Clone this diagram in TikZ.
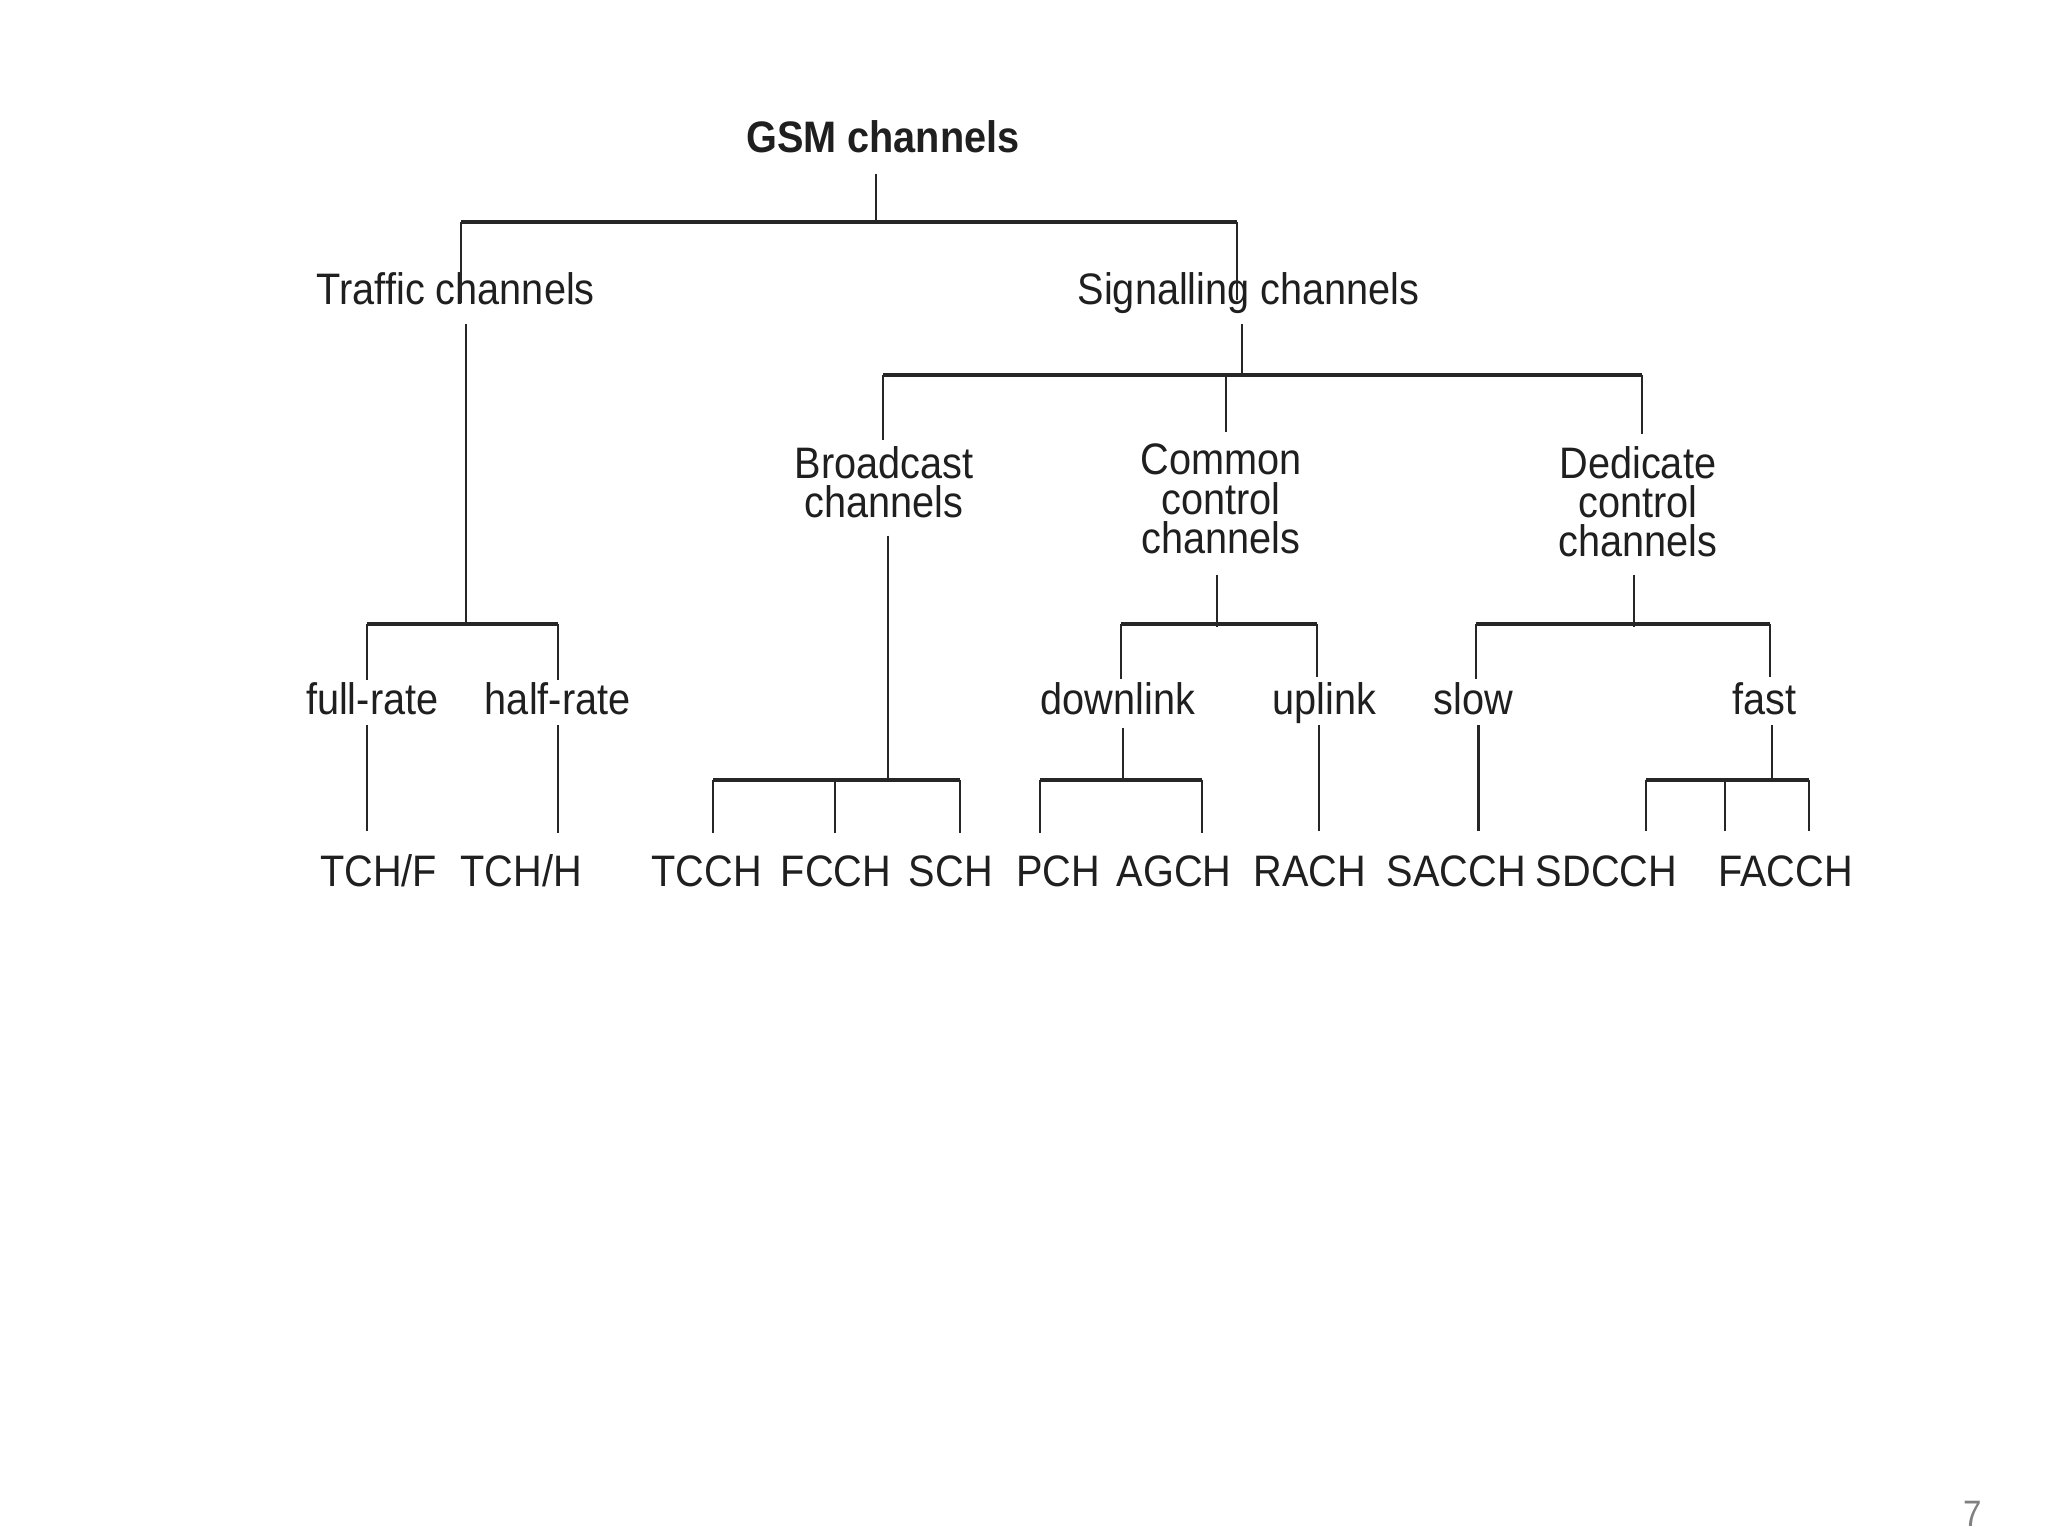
\documentclass[tikz,border=0pt]{standalone}
\usepackage{fontspec}
\setmainfont[FakeStretch=0.9]{Liberation Sans}
\begin{document}
\begin{tikzpicture}[x=0.01cm,y=-0.01cm,
  lbl/.style={inner sep=0pt, align=center, text=black!88, font=\fontsize{9.6}{8.54}\selectfont},
  ttl/.style={lbl, font=\bfseries\fontsize{9.6}{8.54}\selectfont},
  vl/.style={line width=0.45pt, draw=black!85},
  hl/.style={line width=0.8pt, draw=black!85}]
\useasboundingbox (0,0) rectangle (1568,1176);
% ---------- nodes ----------
\node[ttl,anchor=base] (gsm) at (676,117) {GSM channels};
\node[lbl,anchor=base] (traffic) at (349,233) {Traffic channels};
\node[lbl,anchor=base] (signal) at (956,233) {Signalling channels};
\node[lbl] (bcast) at (677,369) {Broadcast\\channels};
\node[lbl] (common) at (935,382) {Common\\control\\channels};
\node[lbl] (dedic) at (1254,384) {Dedicate\\control\\channels};
\node[lbl,anchor=base] (full) at (285,547) {full-rate};
\node[lbl,anchor=base] (half) at (427,547) {half-rate};
\node[lbl,anchor=base] (down) at (856,547) {downlink};
\node[lbl,anchor=base] (up) at (1014,547) {uplink};
\node[lbl,anchor=base] (slow) at (1128,547) {slow};
\node[lbl,anchor=base] (fast) at (1351,547) {fast};
\node[lbl,anchor=base] (tchf) at (290,679) {TCH/F};
\node[lbl,anchor=base] (tchh) at (399,679) {TCH/H};
\node[lbl,anchor=base] (tcch) at (541,679) {TCCH};
\node[lbl,anchor=base] (fcch) at (640,679) {FCCH};
\node[lbl,anchor=base] (sch) at (728,679) {SCH};
\node[lbl,anchor=base] (pch) at (810,679) {PCH};
\node[lbl,anchor=base] (agch) at (899,679) {AGCH};
\node[lbl,anchor=base] (rach) at (1003,679) {RACH};
\node[lbl,anchor=base] (sacch) at (1115,679) {SACCH};
\node[lbl,anchor=base] (sdcch) at (1230,679) {SDCCH};
\node[lbl,anchor=base] (facch) at (1367,679) {FACCH};
\node[inner sep=0pt,anchor=base,text=black!50,font=\fontsize{8}{9}\selectfont] (page) at (1510,1169) {7};
% ---------- junction coordinates ----------
% GSM
\coordinate (g0) at (671,133); \coordinate (g1) at (671,170);
\coordinate (gL) at (353,170); \coordinate (gR) at (947,170);
\coordinate (gLe) at (353,232); \coordinate (gRe) at (947,230);
% Traffic
\coordinate (t0) at (357,248); \coordinate (t1) at (357,478);
\coordinate (tL) at (281,478); \coordinate (tR) at (427,478);
\coordinate (tLe) at (281,521); \coordinate (tRe) at (427,521);
\coordinate (f0) at (281,555); \coordinate (f1) at (281,636);
\coordinate (h0) at (427,555); \coordinate (h1) at (427,638);
% Signalling
\coordinate (s0) at (951,248); \coordinate (s1) at (951,289);
\coordinate (sL) at (676,287); \coordinate (sR) at (1257,287);
\coordinate (sLe) at (676,337); \coordinate (sM) at (939,287); \coordinate (sMe) at (939,331);
\coordinate (sRe) at (1257,332);
% Broadcast
\coordinate (b0) at (680,410); \coordinate (b1) at (680,597);
\coordinate (bL) at (546,597); \coordinate (bM) at (639,597); \coordinate (bR) at (735,597);
\coordinate (bLe) at (546,638); \coordinate (bMe) at (639,638); \coordinate (bRe) at (735,638);
% Common
\coordinate (c0) at (932,440); \coordinate (c1) at (932,480);
\coordinate (cL) at (858,478); \coordinate (cR) at (1008,478);
\coordinate (cLe) at (858,520); \coordinate (cRe) at (1008,518);
% downlink
\coordinate (d0) at (860,557); \coordinate (d1) at (860,597);
\coordinate (dL) at (796,597); \coordinate (dR) at (920,597);
\coordinate (dLe) at (796,638); \coordinate (dRe) at (920,638);
% uplink
\coordinate (u0) at (1010,555); \coordinate (u1) at (1010,636);
% Dedicated
\coordinate (e0) at (1251,440); \coordinate (e1) at (1251,480);
\coordinate (eL) at (1130,478); \coordinate (eR) at (1355,478);
\coordinate (eLe) at (1130,520); \coordinate (eRe) at (1355,518);
% slow
\coordinate (w0) at (1132,555); \coordinate (w1) at (1132,636);
% fast
\coordinate (k0) at (1357,555); \coordinate (k1) at (1357,597);
\coordinate (kL) at (1260,597); \coordinate (kM) at (1321,597); \coordinate (kR) at (1385,597);
\coordinate (kLe) at (1260,636); \coordinate (kMe) at (1321,636); \coordinate (kRe) at (1385,636);
% ---------- connectors ----------
\draw[vl] (g0) -- (g1);
\draw[hl] (gL) -- (gR);
\draw[vl] (gL) -- (gLe);
\draw[vl] (gR) -- (gRe);
\draw[vl] (t0) -- (t1);
\draw[hl] (tL) -- (tR);
\draw[vl] (tL) -- (tLe);
\draw[vl] (tR) -- (tRe);
\draw[vl] (f0) -- (f1);
\draw[vl] (h0) -- (h1);
\draw[vl] (s0) -- (s1);
\draw[hl] (sL) -- (sR);
\draw[vl] (sL) -- (sLe);
\draw[vl] (sM) -- (sMe);
\draw[vl] (sR) -- (sRe);
\draw[vl] (b0) -- (b1);
\draw[hl] (bL) -- (bR);
\draw[vl] (bL) -- (bLe);
\draw[vl] (bM) -- (bMe);
\draw[vl] (bR) -- (bRe);
\draw[vl] (c0) -- (c1);
\draw[hl] (cL) -- (cR);
\draw[vl] (cL) -- (cLe);
\draw[vl] (cR) -- (cRe);
\draw[vl] (d0) -- (d1);
\draw[hl] (dL) -- (dR);
\draw[vl] (dL) -- (dLe);
\draw[vl] (dR) -- (dRe);
\draw[vl] (u0) -- (u1);
\draw[vl] (e0) -- (e1);
\draw[hl] (eL) -- (eR);
\draw[vl] (eL) -- (eLe);
\draw[vl] (eR) -- (eRe);
\draw[vl] (w0) -- (w1);
\draw[vl] (k0) -- (k1);
\draw[hl] (kL) -- (kR);
\draw[vl] (kL) -- (kLe);
\draw[vl] (kM) -- (kMe);
\draw[vl] (kR) -- (kRe);
\end{tikzpicture}
\end{document}
